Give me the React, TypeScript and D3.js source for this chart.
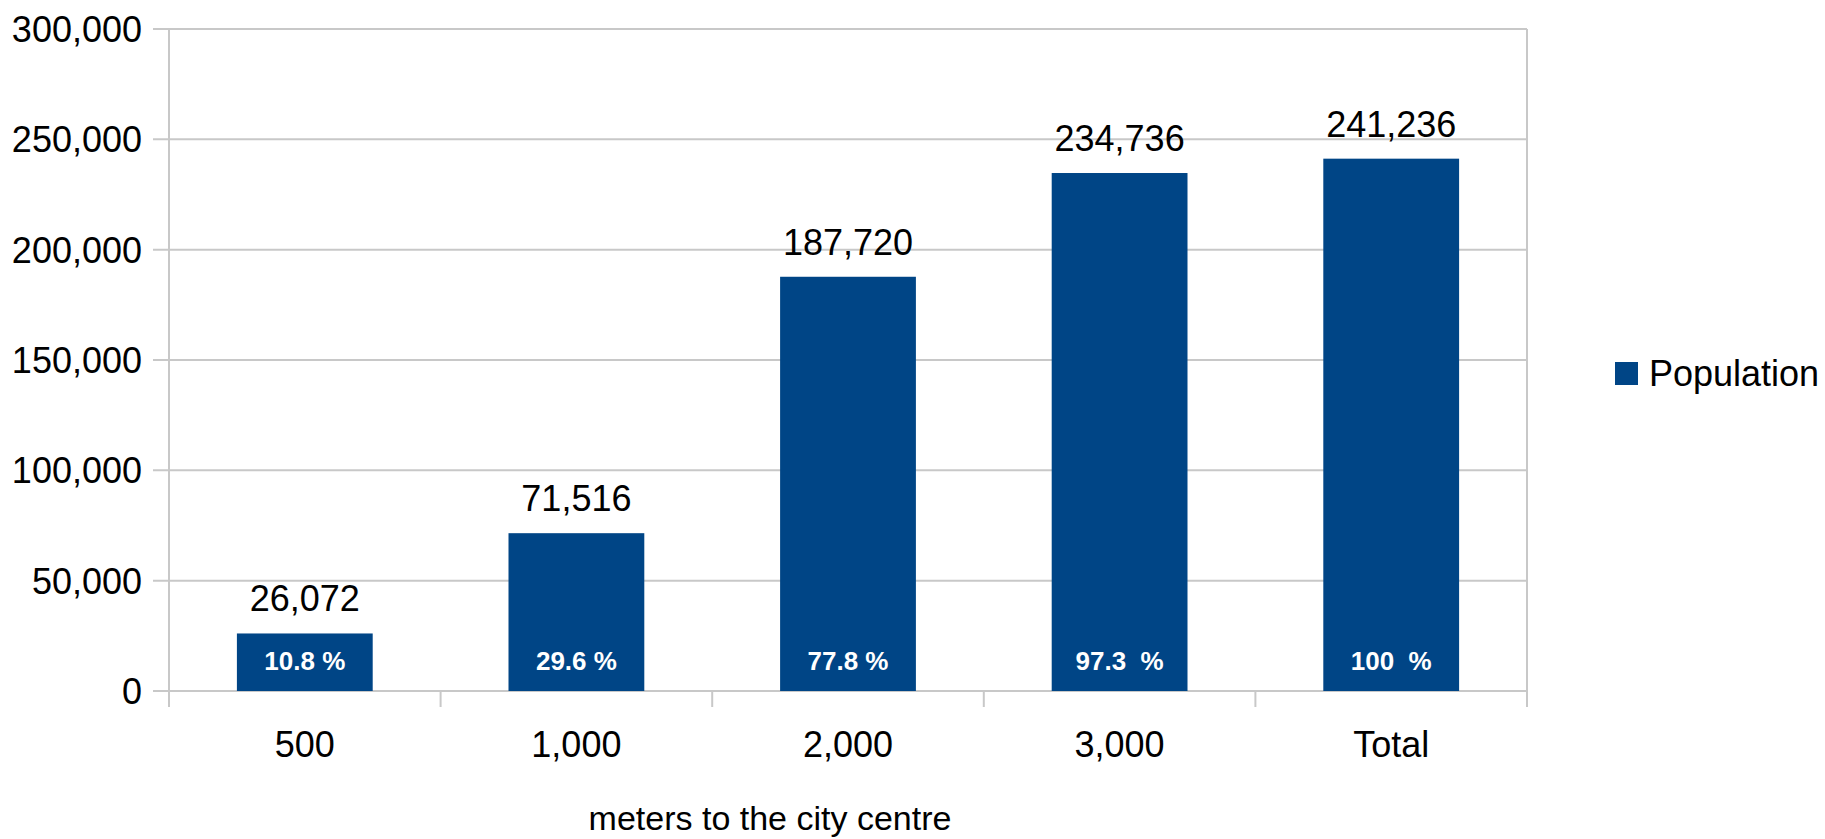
import * as d3 from "d3";

const categories = ["500", "1,000", "2,000", "3,000", "Total"];
const population = [26072, 71516, 187720, 234736, 241236];
const shareLabels = ["10.8 %", "29.6 %", "77.8 %", "97.3  %", "100  %"];
const yTicks = [0, 50000, 100000, 150000, 200000, 250000, 300000];

const W = 1825;
const H = 839;
const margin = { left: 169, right: 1527, top: 29, bottom: 691 };

const FONT = "'Liberation Sans', Arial, sans-serif";
const BAR = "#004586";
const GRID = "#c8c8c8";

const App = () => {
  const x = d3
    .scaleBand<string>()
    .domain(categories)
    .range([margin.left, margin.right])
    .paddingInner(0.5)
    .paddingOuter(0.25);
  const y = d3.scaleLinear().domain([0, 300000]).range([margin.bottom, margin.top]);
  const fmt = d3.format(",");

  // category boundaries for the little tick marks under the axis
  const bounds = categories.map((c) => x(c)! + x.bandwidth() / 2 - x.step() / 2);
  bounds.push(margin.right);

  return (
    <svg
      width={W}
      height={H}
      style={{ position: "absolute", left: 0, top: 0, background: "#fff" }}
      fontFamily={FONT}
    >
      {/* horizontal grid + y labels */}
      {yTicks.map((t) => (
        <g key={t}>
          <line x1={margin.left - 16} x2={margin.right} y1={y(t)} y2={y(t)} stroke={GRID} strokeWidth={2} />
          <text x={142} y={y(t)} dy="0.36em" textAnchor="end" fontSize={36} fill="#000">
            {fmt(t)}
          </text>
        </g>
      ))}

      {/* left and right frame lines */}
      <line x1={margin.left} x2={margin.left} y1={margin.top} y2={margin.bottom + 16} stroke={GRID} strokeWidth={2} />
      <line x1={margin.right} x2={margin.right} y1={margin.top} y2={margin.bottom + 16} stroke={GRID} strokeWidth={2} />

      {bounds.map((b, i) => (
        <line key={i} x1={b} x2={b} y1={margin.bottom} y2={margin.bottom + 16} stroke={GRID} strokeWidth={2} />
      ))}

      {/* bars */}
      {categories.map((c, i) => {
        const bx = x(c)!;
        const cx = bx + x.bandwidth() / 2;
        return (
          <g key={c}>
            <rect x={bx} y={y(population[i])} width={x.bandwidth()} height={y(0) - y(population[i])} fill={BAR} />
            <text x={cx} y={y(population[i]) - 22} textAnchor="middle" fontSize={36} fill="#000">
              {fmt(population[i])}
            </text>
            <text
              x={cx}
              y={y(0) - 21}
              textAnchor="middle"
              fontSize={26}
              fontWeight="bold"
              fill="#fff"
              style={{ whiteSpace: "pre" }}
            >
              {shareLabels[i]}
            </text>
            <text x={cx} y={757} textAnchor="middle" fontSize={36} fill="#000">
              {c}
            </text>
          </g>
        );
      })}

      {/* axis title */}
      <text x={770} y={830} textAnchor="middle" fontSize={34} fill="#000">
        meters to the city centre
      </text>

      {/* legend */}
      <rect x={1615} y={362} width={23} height={23} fill={BAR} />
      <text x={1649} y={386} fontSize={36} fill="#000">
        Population
      </text>
    </svg>
  );
};

export default App;
